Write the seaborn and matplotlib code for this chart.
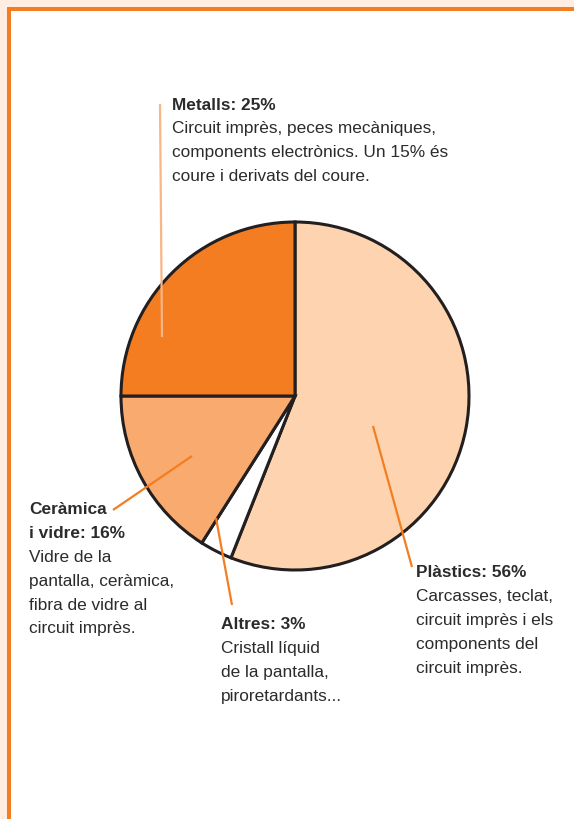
import matplotlib
matplotlib.use("Agg")
import matplotlib.pyplot as plt
import seaborn as sns
from matplotlib.patches import Rectangle

# data
categories = ["Plàstics", "Altres", "Ceràmica i vidre", "Metalls"]
shares = [56, 3, 16, 25]
slice_colors = ["#FDD4AF", "#FFFFFF", "#F9AB6F", "#F47D22"]

titles = ["Plàstics: 56%", "Altres: 3%", "Ceràmica\ni vidre: 16%", "Metalls: 25%"]
notes = [
    ["Carcasses, teclat,", "circuit imprès i els", "components del", "circuit imprès."],
    ["Cristall líquid", "de la pantalla,", "piroretardants..."],
    ["Vidre de la", "pantalla, ceràmica,", "fibra de vidre al", "circuit imprès."],
    ["Circuit imprès, peces mecàniques,", "components electrònics. Un 15% és",
     "coure i derivats del coure."],
]

W, H = 574, 820
sns.set_style("white")
plt.rcParams["font.family"] = ["Liberation Sans", "DejaVu Sans"]


def Y(py):
    return H - py


fig = plt.figure(figsize=(W / 100, H / 100), dpi=100)
ax = fig.add_axes([0, 0, 1, 1])

ax.pie(shares, colors=slice_colors, startangle=90, counterclock=False,
       center=(295, Y(397)), radius=174,
       wedgeprops=dict(edgecolor="#231F20", linewidth=2.2))
ax.set_xlim(0, W)
ax.set_ylim(0, H)
ax.set_aspect("equal")
ax.axis("off")

# frame
peach = "#FEEDE0"
orange = "#F47D22"
ax.add_patch(Rectangle((0, 0), 7, H, color=peach, lw=0))
ax.add_patch(Rectangle((0, Y(8)), W, 8, color=peach, lw=0))
ax.add_patch(Rectangle((7, 0), 4, Y(8), color=orange, lw=0))
ax.add_patch(Rectangle((7, Y(12)), W - 7, 4, color=orange, lw=0))

# leader lines
leaders = [
    ((373, 427), (412, 568), "#F47D22"),
    ((216, 519), (232, 606), "#F47D22"),
    ((192, 457), (113, 511), "#F47D22"),
    ((162, 338), (160, 105), "#F9B585"),
]
for (x0, y0), (x1, y1), c in leaders:
    ax.plot([x0, x1], [Y(y0), Y(y1)], color=c, lw=1.6, solid_capstyle="butt")

# text blocks: x, center of first line
anchors = [(416, 573), (221, 625), (29, 510), (172, 105)]
step = 23.8
txt = "#2B2B2B"
for title, lines, (x, y) in zip(titles, notes, anchors):
    for part in title.split("\n"):
        ax.text(x, Y(y), part, fontsize=12.4, fontweight="bold", color=txt,
                ha="left", va="center")
        y += step
    for line in lines:
        ax.text(x, Y(y), line, fontsize=12.4, color=txt, ha="left", va="center")
        y += step

fig.savefig("out.png", dpi=100)
